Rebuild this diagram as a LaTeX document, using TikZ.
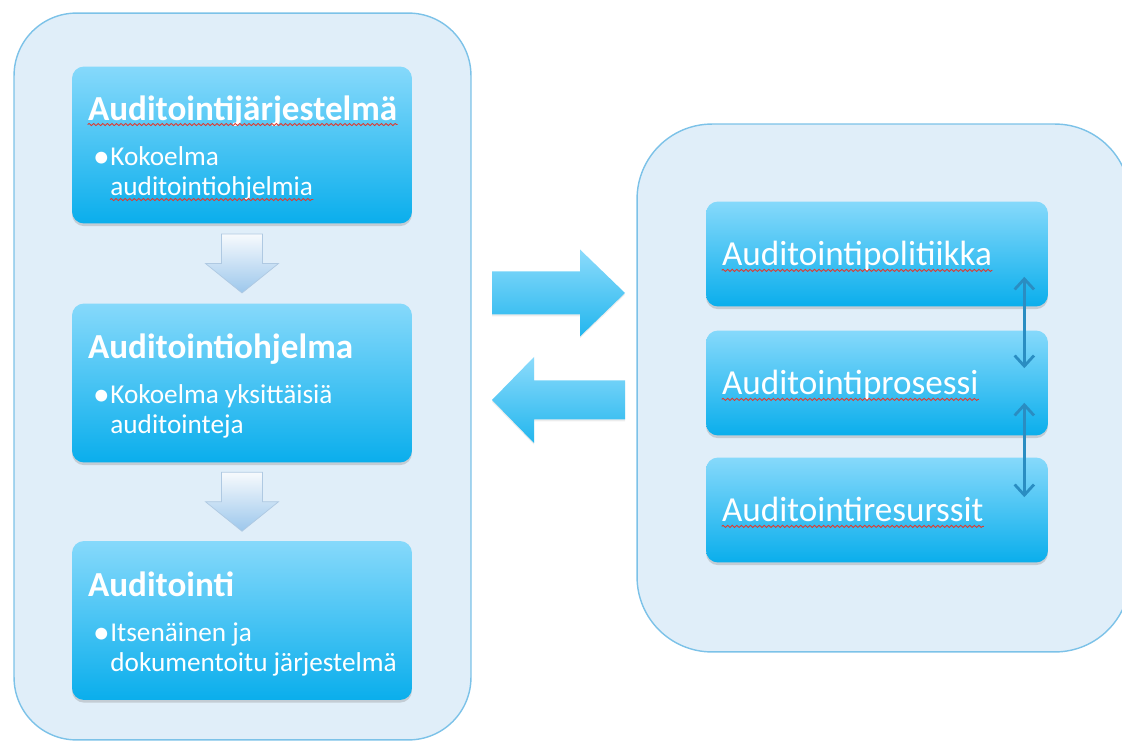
\documentclass[tikz,border=0pt]{standalone}
\usepackage{fontspec}
\setmainfont{Carlito}
\usetikzlibrary{shadows,calc,arrows.meta,decorations.pathmorphing}

\definecolor{panelfill}{HTML}{E0EEF9}
\definecolor{panelline}{HTML}{7CC2E8}
\definecolor{boxtop}{HTML}{86D9FB}
\definecolor{boxbot}{HTML}{0AAEEC}
\definecolor{tiplight}{HTML}{F7FAFD}
\definecolor{tipdark}{HTML}{9CC7EC}
\definecolor{tipline}{HTML}{AFC9E2}
\definecolor{linkblue}{HTML}{2A8DC2}
\definecolor{spellred}{HTML}{E0392E}

\newcommand\itemdot{\raisebox{-1.3pt}{\fontsize{19}{19}\selectfont\textbullet}\hspace{1.5pt}}

\begin{document}
\begin{tikzpicture}[x=0.02cm,y=0.02cm,
    panel/.style={draw=panelline,line width=0.8pt,fill=panelfill},
    box/.style={rounded corners=0.24cm,top color=boxtop,bottom color=boxbot,
        drop shadow={opacity=0.3,shadow xshift=0pt,shadow yshift=-1.5pt},inner sep=0pt},
    boxtext/.style={anchor=base west,text=white,inner sep=0pt,font=\fontsize{15.5}{17}\selectfont},
    boxtitle/.style={boxtext,font=\fontsize{20}{24}\selectfont\bfseries},
    sidetext/.style={boxtext,font=\fontsize{20}{24}\selectfont},
    downtip/.style={draw=tipline,line width=0.4pt,top color=tiplight,bottom color=tipdark},
    bigtip/.style={draw=none,top color=boxtop!95!white,bottom color=boxbot!90!white,
        drop shadow={opacity=0.15,shadow xshift=0pt,shadow yshift=-1pt}},
    link/.style={draw=linkblue,line width=1.6pt,
        {Straight Barb[length=6pt,width=11pt]}-{Straight Barb[length=6pt,width=11pt]}},
    spellwave/.style={draw=spellred,line width=0.5pt,
        decorate,decoration={snake,amplitude=0.6pt,segment length=2.6pt}}
    ]
    \useasboundingbox (0,0) rectangle (1122,-742);

    % the two panels
    \node[panel,rounded corners=1.25cm,minimum width=9.14cm,minimum height=14.54cm] (leftpanel) at (242.5,-376.5) {};
    \node[panel,rounded corners=1.5cm,minimum width=9.86cm,minimum height=10.56cm] (rightpanel) at (883.5,-388) {};

    % left column
    \node[box,minimum width=6.8cm,minimum height=3.14cm] (jar) at (242,-145) {};
    \node[box,minimum width=6.8cm,minimum height=3.18cm] (prog) at (242,-383) {};
    \node[box,minimum width=6.8cm,minimum height=3.18cm] (aud) at (242,-620.5) {};

    \node[boxtitle] (jartitle) at ([shift={(16,-54)}]jar.north west) {Auditointijärjestelmä};
    \node[boxtext] (jarbullet) at ([shift={(5,-45)}]jartitle.base west) {\itemdot};
    \node[boxtext] (jarline1) at (jarbullet.base east) {Kokoelma};
    \node[boxtext] (jarline2) at ([shift={(0,-30)}]jarline1.base west) {auditointiohjelmia};

    \node[boxtitle] (progtitle) at ([shift={(16,-55)}]prog.north west) {Auditointiohjelma};
    \node[boxtext] (progbullet) at ([shift={(5,-45)}]progtitle.base west) {\itemdot};
    \node[boxtext] (progline1) at (progbullet.base east) {Kokoelma yksittäisiä};
    \node[boxtext] (progline2) at ([shift={(0,-30)}]progline1.base west) {auditointeja};

    \node[boxtitle] (audtitle) at ([shift={(16,-56)}]aud.north west) {Auditointi};
    \node[boxtext] (audbullet) at ([shift={(5,-45)}]audtitle.base west) {\itemdot};
    \node[boxtext] (audline1) at (audbullet.base east) {Itsenäinen ja};
    \node[boxtext] (audline2) at ([shift={(0,-30)}]audline1.base west) {dokumentoitu järjestelmä};

    \draw[spellwave] ([yshift=-2.5pt]jartitle.base west) -- ([yshift=-2.5pt]jartitle.base east);
    \draw[spellwave] ([yshift=-2.5pt]jarline2.base west) -- ([yshift=-2.5pt]jarline2.base east);

    % down arrows between the boxes
    \coordinate (down1) at ($(jar.south)!0.5!(prog.north)$);
    \coordinate (down2) at ($(prog.south)!0.5!(aud.north)$);
    \foreach \d in {down1,down2}{
        \draw[downtip,shift={(\d)}] (-20.5,29.5) -- (20.5,29.5) -- (20.5,0) -- (36.5,0)
            -- (0,-29.5) -- (-36.5,0) -- (-20.5,0) -- cycle;
    }

    % between the panels
    \coordinate (toright) at (558.5,-293);
    \coordinate (toleft) at (558.5,-400);
    \path[bigtip,shift={(toright)}] (-66.5,21.5) -- (21.5,21.5) -- (21.5,43.5) -- (66.5,0)
        -- (21.5,-43.5) -- (21.5,-21.5) -- (-66.5,-21.5) -- cycle;
    \path[bigtip,shift={(toleft)}] (66.5,19.5) -- (-24.5,19.5) -- (-24.5,43) -- (-66.5,0)
        -- (-24.5,-43) -- (-24.5,-19.5) -- (66.5,-19.5) -- cycle;

    % right column
    \foreach \n/\y/\t in {pol/254/Auditointipolitiikka,pros/383/Auditointiprosessi,res/510/Auditointiresurssit}{
        \node[box,minimum width=6.84cm,minimum height=2.1cm] (\n) at (877,-\y) {};
        \node[sidetext] (\n txt) at ([shift={(16,-12)}]\n.west) {\t};
        \draw[spellwave] ([yshift=-2.5pt]\n txt.base west) -- ([yshift=-2.5pt]\n txt.base east);
    }

    \draw[link] ([shift={(-24,30)}]pol.south east) -- ([shift={(-24,-38)}]pros.north east);
    \draw[link] ([shift={(-24,33)}]pros.south east) -- ([shift={(-24,-40)}]res.north east);

\end{tikzpicture}
\end{document}
